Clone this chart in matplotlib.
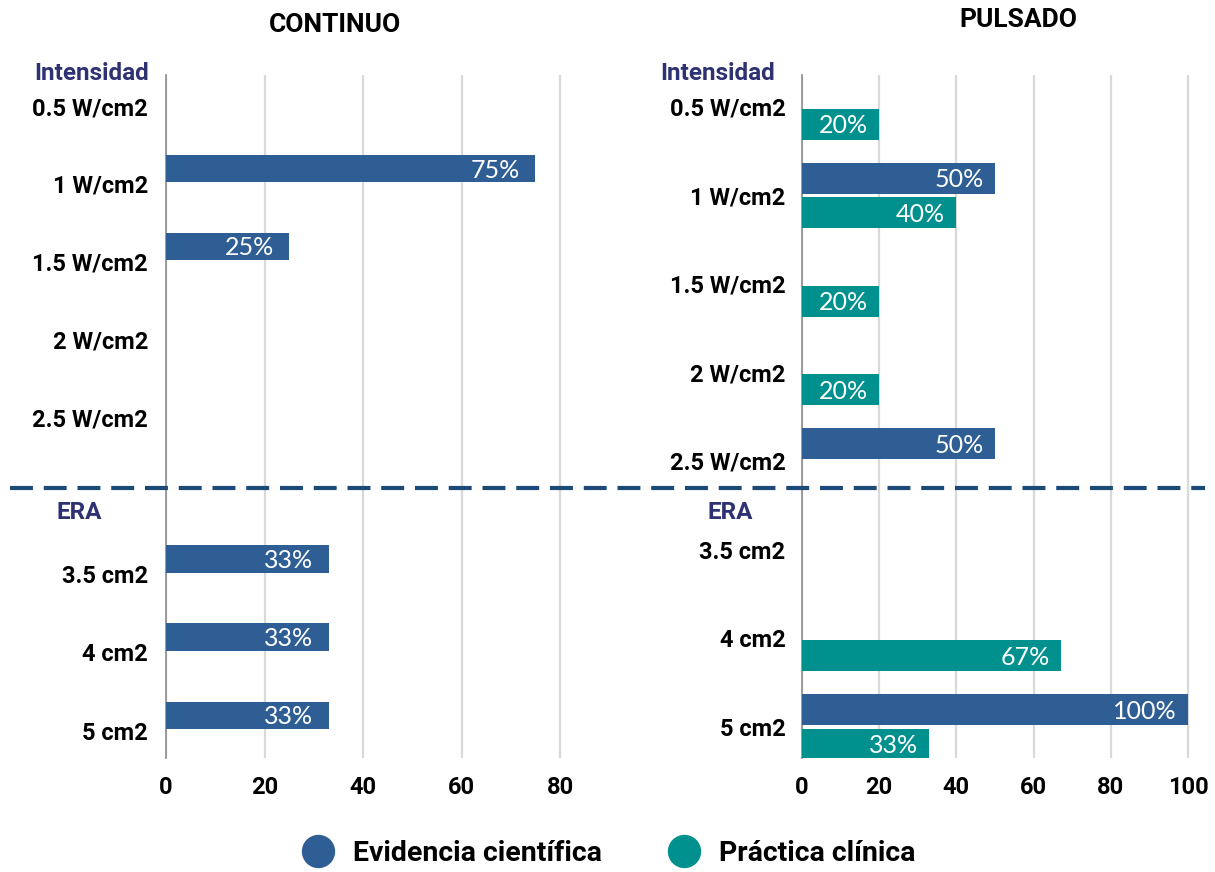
import matplotlib
matplotlib.use("Agg")
import matplotlib.pyplot as plt
from matplotlib.lines import Line2D

# ---------------- data ----------------
int_labels = ['0.5 W/cm2', '1 W/cm2', '1.5 W/cm2', '2 W/cm2', '2.5 W/cm2']
era_labels = ['3.5 cm2', '4 cm2', '5 cm2']

cont_int_evid = [0, 75, 25, 0, 0]
cont_int_prac = [0, 0, 0, 0, 0]
puls_int_evid = [0, 50, 0, 0, 50]
puls_int_prac = [20, 40, 20, 20, 0]

cont_era_evid = [33, 33, 33]
cont_era_prac = [0, 0, 0]
puls_era_evid = [0, 0, 100]
puls_era_prac = [0, 67, 33]

left_ticks = [0, 20, 40, 60, 80]
right_ticks = [0, 20, 40, 60, 80, 100]

series_names = ['Evidencia científica', 'Práctica clínica']
titles = ['CONTINUO', 'PULSADO']
group_names = ['Intensidad', 'ERA']

# ---------------- style ----------------
C_EVID = '#2F5E95'
C_PRAC = '#00918E'
C_HEAD = '#2E3172'
C_GRID = '#D9D9D9'
FONT = 'Roboto'
VFONT = 'Lato'

W, H = 1215, 872
fig = plt.figure(figsize=(W / 100, H / 100), dpi=100)
fig.patch.set_facecolor('white')


def fx(px):
    return px / W


def fy(py):
    return 1 - py / H


def make_ax(x0, x1, y0, y1):
    return fig.add_axes([fx(x0), fy(y1), fx(x1) - fx(x0), (y1 - y0) / H])


BH = 0.35
OFF = 0.195


def draw(ax, labels, evid, prac, xlim, ylim, ticks, show_x, lpad, vpad):
    n = len(labels)
    pos = list(range(n))
    b1 = ax.barh([p - OFF for p in pos], evid, height=BH, color=C_EVID, zorder=3)
    b2 = ax.barh([p + OFF for p in pos], prac, height=BH, color=C_PRAC, zorder=3)
    for bars, vals in ((b1, evid), (b2, prac)):
        for rect, v in zip(bars, vals):
            if v > 0:
                ax.annotate(f"{v}%", xy=(v, rect.get_y() + rect.get_height() / 2),
                            xytext=(-vpad, -1), textcoords='offset points',
                            ha='right', va='center', color='white',
                            fontsize=18, family=VFONT, zorder=4)
    ax.set_xlim(*xlim)
    ax.set_ylim(*ylim)
    ax.set_yticks(pos)
    ax.set_yticklabels(labels, fontsize=17, fontweight='bold', family=FONT)
    ax.tick_params(axis='y', length=0, pad=lpad)
    ax.set_xticks(ticks)
    if show_x:
        ax.set_xticklabels([str(t) for t in ticks], fontsize=17,
                           fontweight='bold', family=FONT)
        ax.tick_params(axis='x', length=0, pad=13)
    else:
        ax.tick_params(axis='x', length=0, labelbottom=False)
    ax.grid(axis='x', color=C_GRID, lw=1.6, zorder=0)
    ax.set_axisbelow(True)
    for s in ('top', 'right', 'bottom'):
        ax.spines[s].set_visible(False)
    ax.spines['left'].set_color('#8C8C8C')
    ax.spines['left'].set_linewidth(1.2)
    ax.set_facecolor('none')


# left panels
ax_lt = make_ax(166, 166 + 88 * 4.925, 75, 488)
draw(ax_lt, int_labels, cont_int_evid, cont_int_prac, (0, 88), (4.91, -0.40),
     left_ticks, False, 13, 11)
ax_lb = make_ax(166, 166 + 88 * 4.925, 488, 758)
draw(ax_lb, era_labels, cont_era_evid, cont_era_prac, (0, 88), (2.35, -1.10),
     left_ticks, True, 13, 11)

# right panels
ax_rt = make_ax(802, 802 + 103 * 3.86, 75, 488)
draw(ax_rt, int_labels, puls_int_evid, puls_int_prac, (0, 103), (4.305, -0.36),
     right_ticks, False, 12, 8)
ax_rb = make_ax(802, 802 + 103 * 3.86, 488, 758)
draw(ax_rb, era_labels, puls_era_evid, puls_era_prac, (0, 103), (2.35, -0.70),
     right_ticks, True, 12, 8)

# titles
fig.text(fx(335), fy(25), titles[0], ha='center', va='center', fontsize=19,
         fontweight='bold', family=FONT)
fig.text(fx(1018), fy(20), titles[1], ha='center', va='center', fontsize=19,
         fontweight='bold', family=FONT)

# group headers
for x, y, t in ((92, 73, group_names[0]), (718, 73, group_names[0]),
                (79, 512, group_names[1]), (730, 512, group_names[1])):
    fig.text(fx(x), fy(y), t, ha='center', va='center', fontsize=17.5,
             fontweight='bold', family=FONT, color=C_HEAD)

# dashed separator
fig.add_artist(Line2D([fx(10), fx(1205)], [fy(488), fy(488)], color='#1C4A78',
                      lw=3, linestyle=(0, (5.5, 2.6)), transform=fig.transFigure))

# legend
handles = [Line2D([], [], marker='o', ls='none', markersize=23,
                  markerfacecolor=C_EVID, markeredgecolor=C_EVID),
           Line2D([], [], marker='o', ls='none', markersize=23,
                  markerfacecolor=C_PRAC, markeredgecolor=C_PRAC)]
fig.legend(handles, series_names, loc='center', bbox_to_anchor=(fx(608), fy(853)),
           ncol=2, frameon=False, handlelength=1.2, handletextpad=0.63,
           columnspacing=2.3,
           prop={'family': FONT, 'weight': 'bold', 'size': 20.5})

fig.savefig('out.png', dpi=100, facecolor='white')
